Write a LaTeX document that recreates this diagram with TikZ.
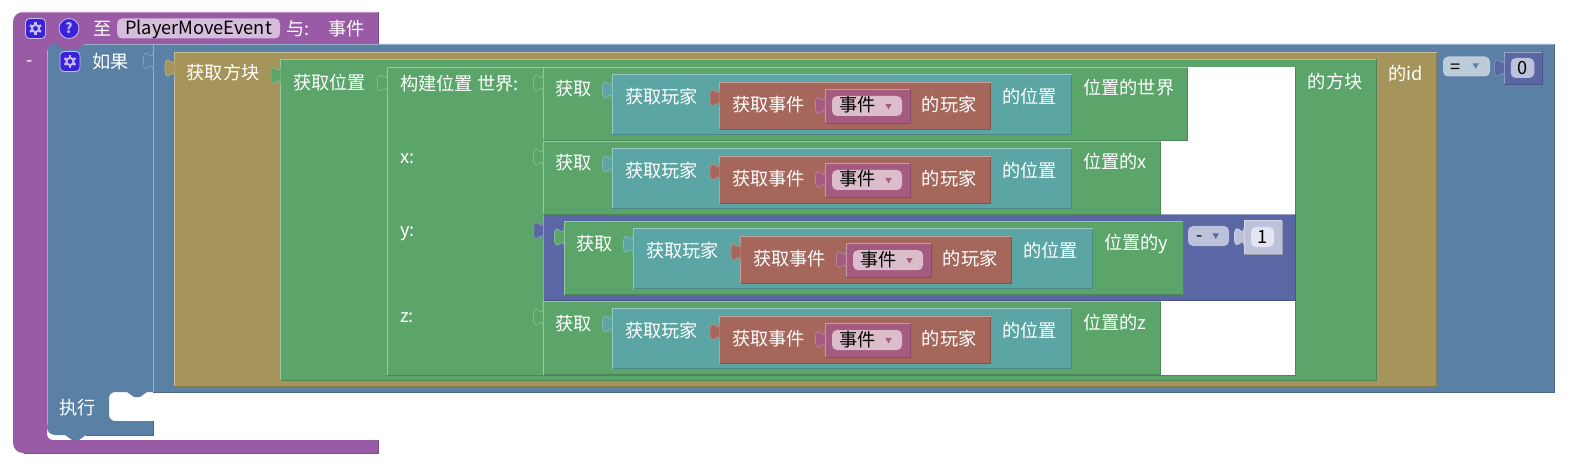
\documentclass[tikz,border=0pt]{standalone}
\usepackage{fontspec}
\setmainfont{Noto Sans CJK SC}
\usepackage{tikz}

\definecolor{procblock}{HTML}{995BA5}
\definecolor{logicblock}{HTML}{5B80A5}
\definecolor{goldblock}{HTML}{A5955B}
\definecolor{greenblock}{HTML}{5BA56B}
\definecolor{tealblock}{HTML}{5BA5A5}
\definecolor{brownblock}{HTML}{A5675B}
\definecolor{varblock}{HTML}{A55B80}
\definecolor{mathblock}{HTML}{5B67A5}
\definecolor{iconblue}{HTML}{3A22DC}
\definecolor{iconmark}{HTML}{C4BEEE}

% colour, left, top, right, bottom
\newcommand{\blockbox}[5]{
  \fill[#1] (#2,#3) rectangle (#4,#5);
  \draw[#1!82!black, line width=.9pt] (#4,#3) -- (#4,#5) -- (#2,#5);
  \draw[#1!62!white, line width=.9pt] (#2,#5) -- (#2,#3) -- (#4,#3);
}
% colour, edge of the block, top of the block
\newcommand{\puzzletab}[3]{
  \draw[fill=#1, draw=#1!75!white, line width=.7pt]
    (#2,#3+7) .. controls (#2,#3+19) and (#2-9.6,#3-2.6) .. (#2-9.6,#3+16)
    .. controls (#2-9.6,#3+34.6) and (#2,#3+13) .. (#2,#3+25);
}
\newcommand{\droparrow}[3]{
  \fill[#1] (#2-3.2,#3-2.6) -- (#2+3.2,#3-2.6) -- (#2,#3+2.8) -- cycle;
}
\newcommand{\gearmark}[1]{
  \foreach \a in {30,90,...,330}
    \draw[iconmark, line width=2.4pt] (#1) ++(\a:3.4) -- ++(\a:3);
  \draw[iconmark, line width=2pt] (#1) circle (3.6);
}

\begin{document}
\begin{tikzpicture}[x=1pt,y=-1pt]
      \tikzstyle{word} = [font=\fontsize{18.2}{20}\selectfont,text=white,anchor=west,inner sep=0pt,text height=15pt,text depth=2pt]
      \tikzstyle{inkword} = [word,text=black]
      \tikzstyle{dropdown} = [rounded corners=5pt,inner sep=0pt,minimum height=20pt]
      \tikzstyle{iconbox} = [rounded corners=4pt,fill=iconblue,draw=iconmark,line width=.8pt,minimum size=20pt,inner sep=0pt]
      \useasboundingbox (0,0) rectangle (1590,473);

      % hat block
      \fill[procblock] (13,200) [rounded corners=10pt] -- (13,12) [sharp corners] -- (378,12) -- (378,44)
        -- (90,44) -- (90,52) -- (47,52) [rounded corners=6pt] -- (47,440) [sharp corners] -- (378,440) -- (378,453)
        [rounded corners=10pt] -- (13,453) -- cycle;
      \draw[procblock!82!black, line width=.9pt] (378,12) -- (378,44);
      \draw[procblock!82!black, line width=.9pt] (378,440) -- (378,453) -- (24,453);
      \draw[procblock!62!white, line width=.9pt] (22,12) -- (378,12);
      \node (hatgear) [iconbox] at (35.5,28.5) {};
      \gearmark{hatgear}
      \node (hathelp) [iconbox,circle] at (69,28.5) {};
      \node (hatmark) [font=\fontsize{14}{14}\selectfont\bfseries,text=iconmark,inner sep=0pt] at (hathelp) {?};
      \node (hatto) [word] at (93,29) {至};
      \node (hatfield) [dropdown,fill=procblock!40!white,minimum width=163pt,minimum height=20pt] at (198.5,28.5) {};
      \node (hatname) [inkword,anchor=center] at (hatfield) {PlayerMoveEvent};
      \node (hatwith) [word] at (286,29) {与:};
      \node (hatarg) [word] at (328,29) {事件};
      \node (hatminus) [word] at (26,60) {-};

      % if block
      \fill[logicblock] (47,300) [rounded corners=8pt] -- (47,44) [sharp corners] -- (57,44) -- (64,50) -- (77,50) -- (84,44)
        -- (1554,44) -- (1554,392) -- (147,392) -- (140,397) -- (134,397) -- (127,392)
        [rounded corners=6pt] -- (109,392) -- (109,421) [sharp corners] -- (153,421) -- (153,435)
        -- (86,435) -- (79,440) -- (72,440) -- (65,435) [rounded corners=8pt] -- (47,435) -- cycle;
      \draw[logicblock!62!white, line width=.9pt] (84,44) -- (1554,44);
      \draw[logicblock!62!white, line width=.9pt] (47,50) -- (47,425);
      \draw[logicblock!82!black, line width=.9pt] (1554,44) -- (1554,392) -- (153,392);
      \draw[logicblock!82!black, line width=.9pt] (153,421) -- (153,435) -- (86,435);
      \draw[logicblock!62!white, line width=.9pt] (153,45) -- (153,392);
      \puzzletab{logicblock}{153}{45}
      \node (ifgear) [iconbox] at (70,61.5) {};
      \gearmark{ifgear}
      \node (ifword) [word] at (92,62) {如果};
      \node (doword) [word] at (59,408) {执行};

      % equals and its number
      \node (eqdrop) [dropdown,fill=logicblock!40!white,minimum width=47pt] at (1466.5,66.5) {};
      \node (eqmark) [inkword] at (1450,67) {=};
      \droparrow{logicblock}{1475.7}{66}
      \blockbox{mathblock}{1504}{52}{1542}{84.5}
      \puzzletab{mathblock}{1504}{52}
      \node (zerofield) [dropdown,fill=mathblock!40!white,minimum width=23.5pt] at (1522.5,68) {};
      \node (zeromark) [inkword,anchor=center] at (zerofield) {0};

      % nested blocks
      \blockbox{goldblock}{174.5}{52}{1436.7}{386}
      \puzzletab{goldblock}{174.5}{52}
      \node (blockword) [word] at (186.5,73.5) {获取方块};
      \node (idword) [word] at (1388,74.5) {的id};
      \blockbox{greenblock}{280.6}{59.5}{1376}{380}
      \puzzletab{greenblock}{280.6}{59.5}
      \node (posword) [word] at (293,83) {获取位置};
      \node (ofblock) [word] at (1307.7,82) {的方块};
      \blockbox{greenblock}{387}{67}{1295}{375}
      \puzzletab{greenblock}{387}{67}
      \fill[white] (543,67) rectangle (1295,375);
      \node (makeword) [word] at (400,84) {构建位置 世界:};
      \node (xword) [word] at (400,157) {x:};
      \node (yword) [word] at (400,230) {y:};
      \node (zword) [word] at (400,316) {z:};

      % the minus block round the y row
      \blockbox{mathblock}{543}{214.5}{1295}{300.5}
      \puzzletab{mathblock}{543}{214.5}
      \node (minusdrop) [dropdown,fill=mathblock!40!white,minimum width=41pt] at (1208.5,236) {};
      \node (minusmark) [inkword] at (1196,235) {-};
      \droparrow{mathblock}{1215.7}{236}
      \blockbox{mathblock!40!white}{1244}{220.7}{1282}{254}
      \puzzletab{mathblock!40!white}{1244}{220.7}
      \node (onefield) [dropdown,fill=mathblock!17!white,minimum width=23pt] at (1262.5,237) {};
      \node (onemark) [inkword,anchor=center] at (onefield) {1};

      % the four rows
      \foreach \nm/\ox/\oy/\rt/\lab in {rw/0/0/1187.7/位置的世界,rx/0/74/1160.7/位置的x,ry/21/154.2/1162/位置的y,rz/0/234/1160.7/位置的z}{
        \begin{scope}[shift={(\ox,\oy)}]
          \blockbox{greenblock}{543}{67}{\rt}{140.5}
          \puzzletab{greenblock}{543}{67}
          \node (\nm get) [word] at (555.5,89.5) {获取};
          \blockbox{tealblock}{612}{74}{1071.7}{134.5}
          \puzzletab{tealblock}{612}{74}
          \node (\nm player) [word] at (625,97) {获取玩家};
          \blockbox{brownblock}{719.5}{82}{990.6}{129}
          \puzzletab{brownblock}{719.5}{82}
          \node (\nm event) [word] at (732,105) {获取事件};
          \blockbox{varblock}{825}{89.5}{910}{123}
          \puzzletab{varblock}{825}{89.5}
          \node (\nm drop) [dropdown,fill=varblock!40!white,minimum width=70pt] at (867,106) {};
          \node (\nm arg) [inkword] at (839.5,105.5) {事件};
          \droparrow{varblock}{888.5}{106.5}
          \node (\nm owner) [word] at (921.6,105) {的玩家};
          \node (\nm where) [word] at (1002,97) {的位置};
          \node (\nm part) [word] at (1083,88.5) {\lab};
        \end{scope}
      }
\end{tikzpicture}
\end{document}
